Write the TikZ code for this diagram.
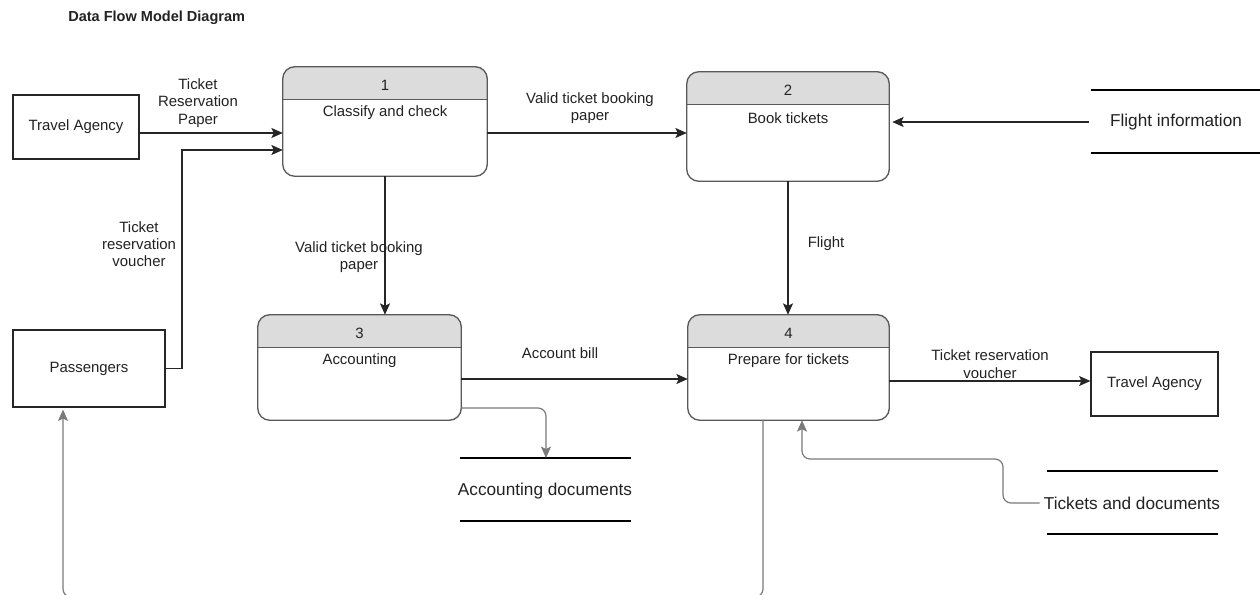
\documentclass[tikz,border=0pt]{standalone}
\usepackage{fontspec}
\setmainfont{Liberation Sans}
\usetikzlibrary{arrows.meta,calc,fit}
\definecolor{hdr}{HTML}{DCDCDC}
\definecolor{bord}{HTML}{595959}
\definecolor{lgray}{HTML}{7A7A7A}
\definecolor{txt}{HTML}{222222}
\tikzset{
 every node/.style={font=\fontsize{11.2}{13}\selectfont, text=txt, align=center, inner sep=0pt},
 ent/.style={draw=black!85, line width=0.9pt},
 flow/.style={draw=black!85, line width=0.9pt, -{Stealth[length=8.5pt,width=7.5pt,inset=1.8pt]}},
 flowg/.style={flow, draw=lgray, rounded corners=6pt},
 storeline/.style={line width=1.9pt, draw=black},
 storetext/.style={font=\fontsize{12.9}{15}\selectfont},
}
\newcommand{\procnode}[7]{%
 \coordinate (#1nw) at (#2,#3); \coordinate (#1se) at (#4,#5);
 \node[fit=(#1nw)(#1se)] (#1) {};
 \begin{scope}
  \clip[rounded corners=9pt] (#1.north west) rectangle (#1.south east);
  \fill[hdr] (#1.north west) rectangle ($(#1.north east)+(0,33)$);
 \end{scope}
 \draw[bord, line width=1pt, rounded corners=9pt] (#1.north west) rectangle (#1.south east);
 \draw[bord, line width=0.8pt] ($(#1.north west)+(0,33)$) -- ($(#1.north east)+(0,33)$);
 \node (#1num) at ($(#1.north)+(0,19)$) {#6};
 \node (#1lab) at ($(#1.north)+(0,46)$) {#7};
}
\begin{document}
\begin{tikzpicture}[x=0.75pt,y=-0.75pt]
\useasboundingbox (0,0) rectangle (1260,595);
\clip (0,0) rectangle (1260,595);
\fill[white] (0,0) rectangle (1260,595);

\node[anchor=west, font=\bfseries\fontsize{10.9}{12}\selectfont] (title) at (68,18) {Data Flow Model Diagram};

% entities
\node[ent, minimum width=94.5pt, minimum height=48pt] (ta1) at (76,127) {Travel Agency};
\node[ent, minimum width=114pt, minimum height=57.75pt] (pass) at (89,368.5) {Passengers};
\node[ent, minimum width=95.25pt, minimum height=48pt] (ta2) at (1154.5,384) {Travel Agency};

% processes
\procnode{p1}{283}{67}{487}{176}{1}{Classify and check}
\procnode{p2}{687}{72}{889}{181}{2}{Book tickets}
\procnode{p3}{258}{315}{461}{420}{3}{Accounting}
\procnode{p4}{688}{315}{889}{420}{4}{Prepare for tickets}

% stores
\node[storetext] (fi) at (1176,122) {Flight information};
\draw[storeline] (1091,90) -- (1262,90);
\draw[storeline] (1091,153) -- (1262,153);
\node[storetext] (ad) at (545,491) {Accounting documents};
\draw[storeline] (460,458) -- (631,458);
\draw[storeline] (460,521) -- (631,521);
\coordinate (adtop) at (546,458);
\node[storetext] (td) at (1132,503) {Tickets and documents};
\draw[storeline] (1047,471) -- (1218,471);
\draw[storeline] (1047,534) -- (1218,534);

% flows
\draw[flow] (ta1.east |- 0,133) -- (p1.west |- 0,133);
\draw[flow] (pass.east) -- (182,368.5) |- (p1.west |- 0,150);
\draw[flow] (p1.east |- 0,133) -- (p2.west |- 0,133);
\draw[flow] ($(fi.west)+(-21,0)$) -- ($(p2.east |- fi.west)+(3,0)$);
\draw[flow] (p1.south) -- (p1.south |- p3.north);
\draw[flow] (p2.south) -- (p2.south |- p4.north);
\draw[flow] (p3.east |- 0,379) -- (p4.west |- 0,379);
\draw[flowg] (p3.east |- 0,408) -| (adtop);
\draw[flow] (p4.east |- 0,381) -- (ta2.west |- 0,381);
\draw[flowg] ($(td.west)+(-4,0)$) -| (1003,459) -| (p4.south -| 802,0);
\draw[flowg] (p4.south -| 763,0) -- (763,597) -| ($(pass.south -| 63,0)+(0,2)$);

% labels
\node (l1) at (198,103) {Ticket\\Reservation\\Paper};
\node (l2) at (139,244) {Ticket\\reservation\\voucher};
\node (l3) at (590,108) {Valid ticket booking\\paper};
\node (l4) at (359,257) {Valid ticket booking\\paper};
\node (l5) at (826,244) {Flight};
\node (l6) at (560,353) {Account bill};
\node (l7) at (990,364) {Ticket reservation\\voucher};
\end{tikzpicture}
\end{document}
